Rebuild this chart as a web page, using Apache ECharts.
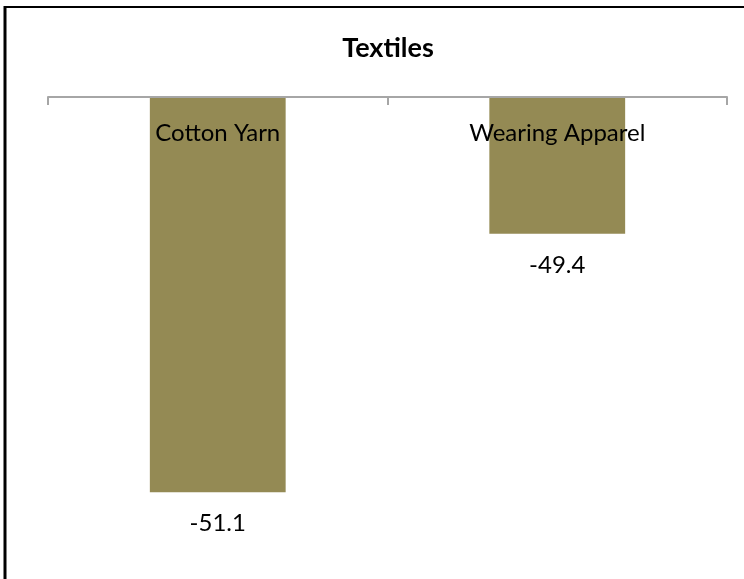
<!DOCTYPE html>
<html>
<head>
<meta charset="utf-8">
<script src="https://cdn.jsdelivr.net/npm/echarts@6/dist/echarts.min.js"></script>
<style>
  html, body { margin: 0; padding: 0; background: #fff; }
  #chart { width: 744px; height: 579px; }
</style>
</head>
<body>
<div id="chart"></div>
<script>
// data
const chartTitle = 'Textiles';
const categories = ['Cotton Yarn', 'Wearing Apparel'];
const values = [-51.1, -49.4];
const axisMin = -51.5;
const axisMax = -48.5;

const chart = echarts.init(document.getElementById('chart'));
const font = 'Lato';

const option = {
  animation: false,
  grid: { left: 48, right: 17, top: 97, bottom: 26 },
  xAxis: {
    type: 'category',
    data: categories,
    position: 'top',
    z: 10,
    axisLine: { show: true, onZero: false, lineStyle: { color: '#a6a6a6', width: 2 } },
    axisTick: { show: true, inside: true, length: 8, interval: 0, alignWithLabel: false, lineStyle: { color: '#a6a6a6', width: 2 } },
    axisLabel: { inside: true, margin: 24, fontFamily: font, fontSize: 24, color: '#000' }
  },
  yAxis: {
    type: 'value',
    min: axisMin,
    max: axisMax,
    show: false
  },
  series: [{
    type: 'bar',
    data: values,
    barWidth: '40%',
    itemStyle: { color: '#948a54' },
    label: {
      show: true,
      position: 'bottom',
      distance: 19,
      formatter: p => p.value.toFixed(1),
      fontFamily: font,
      fontSize: 24,
      color: '#000'
    }
  }],
  graphic: [
    { type: 'line', shape: { x1: 5, y1: 6, x2: 5, y2: 579 }, style: { stroke: '#000', lineWidth: 3 } },
    { type: 'line', shape: { x1: 4, y1: 7, x2: 744, y2: 7 }, style: { stroke: '#000', lineWidth: 2 } },
    {
      type: 'text', x: 388, y: 48,
      style: {
        text: chartTitle, align: 'center', verticalAlign: 'middle',
        font: 'bold 27px Lato', fill: '#000'
      }
    }
  ]
};

chart.setOption(option);
</script>
</body>
</html>
